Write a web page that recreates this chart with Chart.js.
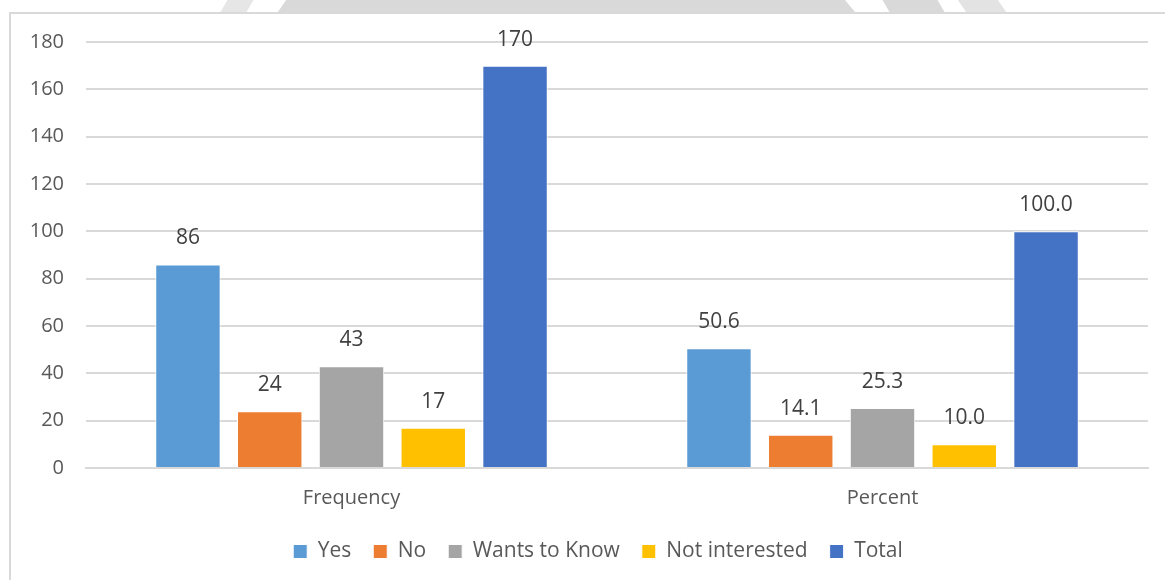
<!DOCTYPE html>
<html>
<head>
<meta charset="utf-8">
<script src="https://cdn.jsdelivr.net/npm/chart.js@4"></script>
<style>
  body { margin: 0; background: #fff; width: 1165px; height: 580px; overflow: hidden; position: relative; }
  .mark { position: absolute; top: 0; height: 12px; background: #d9d9d9; }
  #frame { position: absolute; left: 9px; top: 12px; width: 1170px; height: 590px; border: 2px solid #d9d9d9; box-sizing: border-box; }
  #wrap { position: absolute; left: 0; top: 0; width: 1165px; height: 580px; }
</style>
</head>
<body>
<!-- faded logo strip above the frame -->
<div class="mark" style="left:224px;width:26px;background:#e6e6e6;transform:skewX(-30deg)"></div>
<div class="mark" style="left:282px;width:470px;transform:skewX(-35deg)"></div>
<div class="mark" style="left:700px;width:150px;transform:skewX(40deg)"></div>
<div class="mark" style="left:886px;width:55px;transform:skewX(30deg)"></div>
<div class="mark" style="left:962px;width:40px;background:#e3e3e3;transform:skewX(35deg)"></div>
<div id="frame"></div>
<div id="wrap"><canvas id="myChart" width="1165" height="580"></canvas></div>
<script>
categories = ['Frequency', 'Percent'];
series_names = ['Yes', 'No', 'Wants to Know', 'Not interested', 'Total'];
series_colors = ['#5B9BD5', '#ED7D31', '#A5A5A5', '#FFC000', '#4472C4'];
yes_vals = [86, 50.6];
no_vals = [24, 14.1];
wants_vals = [43, 25.3];
not_int_vals = [17, 10.0];
total_vals = [170, 100.0];
y_ticks = [0, 20, 40, 60, 80, 100, 120, 140, 160, 180];

var font_family = "'Open Sans', 'Liberation Sans', sans-serif";
var all_vals = [yes_vals, no_vals, wants_vals, not_int_vals, total_vals];

var datasets = [];
for (var i = 0; i < series_names.length; i++) {
    datasets.push({
        label: series_names[i],
        data: all_vals[i],
        backgroundColor: series_colors[i],
        borderColor: '#ffffff',
        borderWidth: 1,
        barPercentage: 0.8,
        categoryPercentage: 0.77
    });
}

// value labels above each bar (first group whole numbers, second one decimal)
var barLabels = {
    id: 'barLabels',
    afterDatasetsDraw: function (chart) {
        var ctx = chart.ctx;
        ctx.save();
        ctx.font = '21px ' + font_family;
        ctx.fillStyle = '#404040';
        ctx.textAlign = 'center';
        ctx.textBaseline = 'middle';
        chart.data.datasets.forEach(function (ds, di) {
            chart.getDatasetMeta(di).data.forEach(function (bar, idx) {
                var v = ds.data[idx];
                var txt = idx == 0 ? String(Math.round(v)) : v.toFixed(1);
                ctx.fillText(txt, bar.x, bar.y - 26);
            });
        });
        ctx.restore();
    }
};

// nudge the legend row a bit to the right
var legendShift = {
    id: 'legendShift',
    afterLayout: function (chart) {
        chart.legend.left += 14;
        chart.legend.right += 14;
    }
};

var myChart = new Chart(document.getElementById('myChart'), {
    type: 'bar',
    data: { labels: categories, datasets: datasets },
    plugins: [barLabels, legendShift],
    options: {
        responsive: false,
        animation: false,
        layout: { padding: { left: 20, right: 17, top: 42, bottom: 8 } },
        plugins: {
            tooltip: { enabled: false },
            legend: {
                position: 'bottom',
                labels: {
                    boxWidth: 14,
                    boxHeight: 14,
                    padding: 22,
                    color: '#595959',
                    font: { family: font_family, size: 21 }
                }
            }
        },
        scales: {
            x: {
                grid: { display: false },
                border: { display: true, color: '#d9d9d9', width: 2 },
                ticks: { color: '#595959', padding: 10, font: { family: font_family, size: 20 } },
                afterFit: function (scale) { scale.height = 51; }
            },
            y: {
                min: 0,
                max: 180,
                afterBuildTicks: function (scale) {
                    scale.ticks = y_ticks.map(function (v) { return { value: v }; });
                },
                grid: { color: '#d9d9d9', lineWidth: 2, drawTicks: false },
                border: { display: false },
                ticks: { color: '#595959', padding: 22, font: { family: font_family, size: 20 } },
                afterFit: function (scale) { scale.width = 66; }
            }
        }
    }
});
</script>
</body>
</html>
